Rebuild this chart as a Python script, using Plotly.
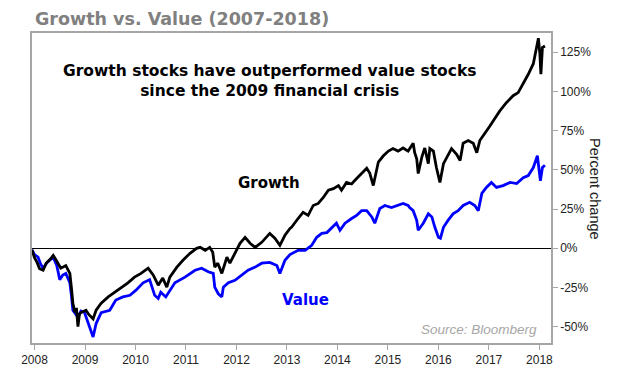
import plotly.graph_objects as go

# Growth index: (decimal year, percent change)
growth_year = [2007.95, 2008.00, 2008.05, 2008.10, 2008.17, 2008.23, 2008.31, 2008.37, 2008.43, 2008.48,
               2008.52, 2008.62, 2008.70, 2008.73, 2008.76, 2008.80, 2008.83, 2008.86, 2008.89, 2008.92,
               2009.02, 2009.07, 2009.12, 2009.16, 2009.22, 2009.32, 2009.46, 2009.59, 2009.71, 2009.85,
               2009.98, 2010.11, 2010.25, 2010.35, 2010.45, 2010.54, 2010.62, 2010.68, 2010.82, 2010.94,
               2011.08, 2011.21, 2011.28, 2011.38, 2011.47, 2011.53, 2011.57, 2011.63, 2011.71, 2011.81,
               2011.87, 2011.97, 2012.07, 2012.17, 2012.27, 2012.37, 2012.50, 2012.66, 2012.76, 2012.86,
               2012.96, 2013.06, 2013.09, 2013.22, 2013.32, 2013.42, 2013.52, 2013.62, 2013.72, 2013.82,
               2013.92, 2014.02, 2014.08, 2014.18, 2014.28, 2014.38, 2014.48, 2014.58, 2014.64, 2014.71,
               2014.81, 2014.91, 2015.01, 2015.10, 2015.20, 2015.30, 2015.40, 2015.47, 2015.50, 2015.53,
               2015.57, 2015.60, 2015.67, 2015.73, 2015.80, 2015.83, 2015.90, 2015.96, 2016.03, 2016.10,
               2016.19, 2016.26, 2016.36, 2016.43, 2016.49, 2016.59, 2016.69, 2016.76, 2016.82, 2016.92,
               2017.02, 2017.12, 2017.22, 2017.35, 2017.48, 2017.58, 2017.68, 2017.78, 2017.88, 2017.94,
               2017.98, 2018.01, 2018.03, 2018.06, 2018.11]
growth_pct = [-1, -6, -9, -13, -14, -9.5, -7, -4.5, -7.6, -10,
              -12.7, -11, -16, -25, -35, -41, -38, -50, -42, -41,
              -39.5, -42, -44, -45, -39.5, -35, -31, -28, -24.8, -22,
              -18.4, -16, -12.7, -17, -23.5, -19, -24.8, -18.4, -12, -7.6,
              -3.2, 0, 0.6, -1.3, 0.6, -2.5, -12, -9.5, -16, -5.7,
              -9.5, -3.2, 3.2, 7, 3.2, 0.6, 3.8, 9.5, 6.4, 1.9,
              8.3, 12.7, 13.4, 19, 23, 21, 27.3, 28.6, 32.4, 37,
              38, 40, 37, 42, 41, 44.5, 48, 51, 48, 40,
              55, 59, 62, 63.6, 62, 64, 62, 65.5, 67, 61,
              57, 47.7, 58, 64, 54, 63.6, 62, 51.5, 42, 54,
              60, 63.6, 60, 56, 67, 68.7, 67, 61, 68.7, 73,
              78, 83, 87.8, 93, 97.3, 99.3, 105, 111, 117.7, 128,
              134, 124, 111, 128, 129]

# Value index: (decimal year, percent change)
value_year = [2007.95, 2008.00, 2008.07, 2008.12, 2008.17, 2008.25, 2008.37, 2008.44, 2008.50, 2008.56,
              2008.62, 2008.70, 2008.73, 2008.76, 2008.86, 2008.92, 2008.99, 2009.09, 2009.16, 2009.22,
              2009.32, 2009.49, 2009.61, 2009.75, 2009.89, 2010.01, 2010.15, 2010.28, 2010.38, 2010.45,
              2010.50, 2010.60, 2010.78, 2010.98, 2011.18, 2011.31, 2011.44, 2011.54, 2011.57, 2011.64,
              2011.71, 2011.74, 2011.84, 2011.97, 2012.10, 2012.23, 2012.37, 2012.50, 2012.66, 2012.80,
              2012.86, 2012.96, 2013.06, 2013.22, 2013.36, 2013.49, 2013.59, 2013.69, 2013.79, 2013.89,
              2013.98, 2014.05, 2014.15, 2014.28, 2014.38, 2014.48, 2014.58, 2014.68, 2014.74, 2014.84,
              2014.94, 2015.07, 2015.20, 2015.30, 2015.40, 2015.43, 2015.50, 2015.57, 2015.60, 2015.70,
              2015.80, 2015.87, 2015.93, 2016.00, 2016.04, 2016.10, 2016.19, 2016.29, 2016.39, 2016.49,
              2016.62, 2016.72, 2016.79, 2016.86, 2016.95, 2017.05, 2017.15, 2017.28, 2017.42, 2017.55,
              2017.68, 2017.78, 2017.88, 2017.96, 2018.02, 2018.06, 2018.11]
value_pct = [-1, -4, -5.7, -10, -12.7, -9, -5.7, -11, -20, -17,
             -16, -22, -30, -39.5, -44, -40, -41, -50, -56.6, -48,
             -41, -39.5, -33, -31, -30, -26.7, -22, -20, -30, -32,
             -28, -31, -22, -18.4, -14, -12.7, -15, -16, -24.8, -29,
             -31, -24.8, -22, -20.4, -17, -14, -12, -9.5, -9, -11,
             -16, -7.6, -4, -1.3, -1.3, 1.9, 7, 9.5, 10, 13.4,
             16, 11.5, 16, 19, 21, 24, 24, 20, 16, 25.4,
             27.3, 26, 27.3, 28.6, 27.3, 26, 24, 17.8, 11.5, 16,
             22, 20, 13.4, 7, 6.4, 13.4, 17.8, 22, 24, 27.3,
             29.3, 27.3, 24, 35, 38.8, 42, 38.8, 40, 42, 41.3,
             45, 46.4, 51.5, 59, 43, 51.5, 53]

year_ticks = list(range(2008, 2019))
pct_ticks = [-50, -25, 0, 25, 50, 75, 100, 125]
pct_labels = [f"{v}%" for v in pct_ticks]

fig = go.Figure()
fig.add_trace(go.Scatter(x=value_year, y=value_pct, mode="lines",
                         line=dict(color="#0000ff", width=2.8), name="Value"))
fig.add_trace(go.Scatter(x=growth_year, y=growth_pct, mode="lines",
                         line=dict(color="#000000", width=2.8), name="Growth"))

axis_col = "#a6a6a6"
tick_font = dict(family="Liberation Sans, Arial", size=12, color="#222222")
fig.update_layout(
    width=627, height=360,
    margin=dict(l=24, r=84, t=25, b=25),
    paper_bgcolor="white", plot_bgcolor="white",
    showlegend=False,
    xaxis=dict(range=[2007.95, 2018.23], tickmode="array", tickvals=year_ticks,
               ticktext=[str(y) for y in year_ticks], automargin=False,
               showgrid=False, zeroline=False, showline=True, linecolor=axis_col, linewidth=1.5,
               mirror=True, ticks="outside", ticklen=5, tickcolor=axis_col, tickfont=tick_font),
    yaxis=dict(range=[-60.4, 137.3], side="right", tickmode="array", tickvals=pct_ticks,
               ticktext=pct_labels, showgrid=False, automargin=False,
               zeroline=True, zerolinecolor="#000000", zerolinewidth=1.2,
               showline=True, linecolor=axis_col, linewidth=1.5, mirror=True,
               ticks="outside", ticklen=5, tickcolor=axis_col, tickfont=tick_font),
    font=dict(family="Liberation Sans, Arial"),
)

fig.add_annotation(text="<b>Growth vs. Value (2007-2018)</b>", xref="paper", yref="paper",
                   x=0, xshift=1, y=1.0, yshift=14, xanchor="left", yanchor="middle", showarrow=False,
                   font=dict(family="DejaVu Sans", size=17.5, color="#808080"))
fig.add_annotation(text="<b>Growth stocks have outperformed value stocks<br>since the 2009 financial crisis</b>",
                   xref="x", yref="y", x=2012.66, y=106.7, showarrow=False, align="center",
                   font=dict(family="DejaVu Sans", size=15.5, color="#000000"))
fig.add_annotation(text="<b>Growth</b>", xref="x", yref="y", x=2012.64, y=41.6, showarrow=False,
                   font=dict(family="DejaVu Sans", size=15, color="#000000"))
fig.add_annotation(text="<b>Value</b>", xref="x", yref="y", x=2013.36, y=-33, showarrow=False,
                   font=dict(family="DejaVu Sans", size=15, color="#0000ff"))
fig.add_annotation(text="<i>Source: Bloomberg</i>", xref="x", yref="y", x=2018.0, y=-51.6,
                   xanchor="right", yanchor="middle", showarrow=False,
                   font=dict(family="Liberation Sans, Arial", size=13.5, color="#a6a6a6"))
fig.add_annotation(text="Percent change", xref="paper", yref="y", x=1.0, xshift=54, y=37.8,
                   textangle=90, showarrow=False,
                   font=dict(family="Liberation Sans, Arial", size=14.5, color="#222222"))

fig.write_html("out.html")
